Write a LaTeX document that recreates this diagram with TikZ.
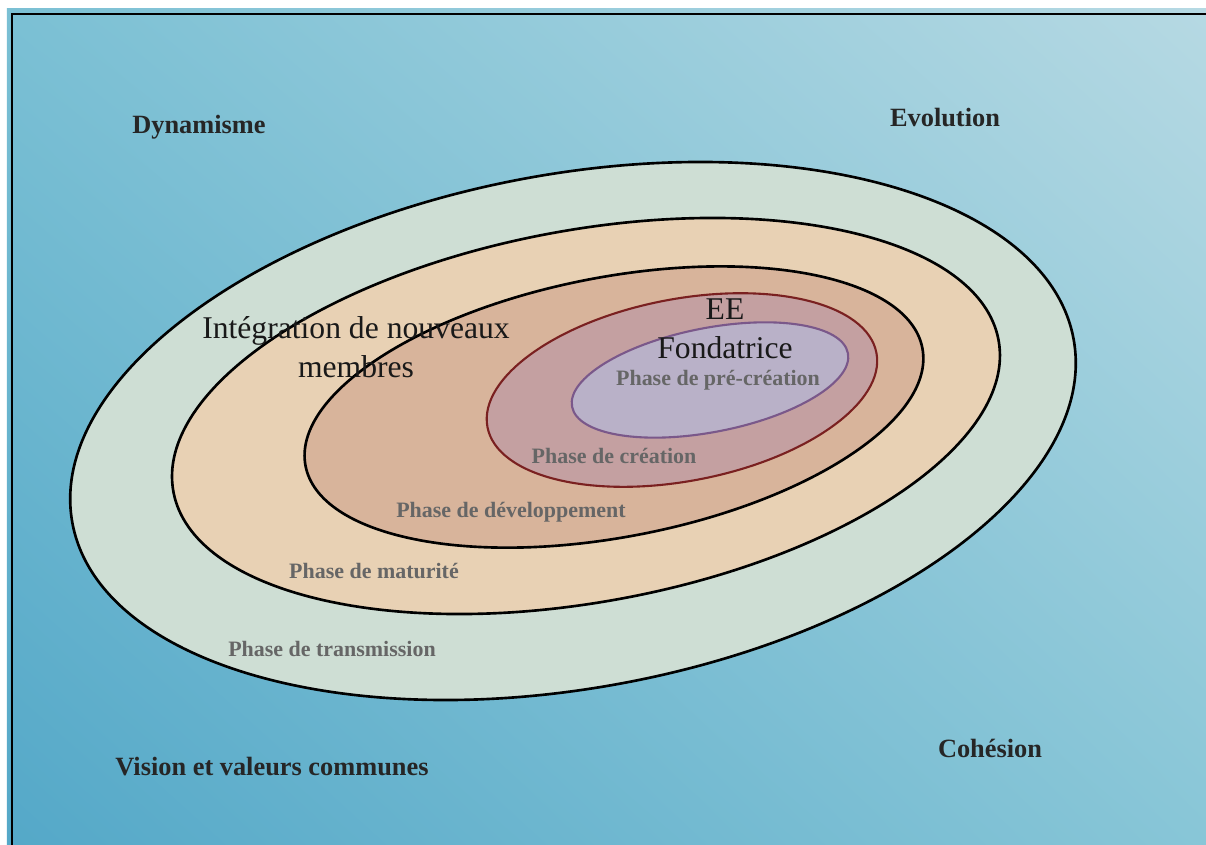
\documentclass[tikz,border=0pt]{standalone}
\usepackage{fontspec}
\setmainfont{Liberation Serif}
\usetikzlibrary{shadings}

\definecolor{bgUL}{RGB}{123,192,212}
\definecolor{bgUR}{RGB}{182,217,227}
\definecolor{bgLL}{RGB}{84,168,200}
\definecolor{bgLR}{RGB}{136,198,215}
\definecolor{ringTrans}{RGB}{206,222,212}
\definecolor{ringMat}{RGB}{232,209,180}
\definecolor{ringDev}{RGB}{216,180,155}
\definecolor{ringCrea}{RGB}{196,160,161}
\definecolor{ringPre}{RGB}{185,177,200}
\definecolor{lineCrea}{RGB}{122,32,32}
\definecolor{linePre}{RGB}{122,88,138}

\begin{document}
\begin{tikzpicture}[
        ring/.style={draw=black, line width=1.5pt},
        cornerlabel/.style={font=\fontsize{15}{18}\selectfont\bfseries, text=black!85},
        phaselabel/.style={font=\fontsize{12.5}{15}\selectfont\bfseries, text=black!60},
        biglabel/.style={font=\fontsize{18}{22}\selectfont, align=center, text=black!90}
    ]
        \useasboundingbox (0, 0) rectangle (24.12, 16.9);

        % ---------------------------------------------------
        % 1. Background and frame
        % ---------------------------------------------------
        \shade[upper left=bgUL, upper right=bgUR, lower left=bgLL, lower right=bgLR]
            (0.14, 0) rectangle (24.12, 16.72);
        \draw[line width=1.6pt] (0.24, 0) -- (0.24, 16.62) -- (24.12, 16.62);

        % ---------------------------------------------------
        % 2. Nested phases (outer to inner)
        % ---------------------------------------------------
        \coordinate (cTrans) at (11.46, 8.28);
        \coordinate (cMat)   at (11.72, 8.58);
        \coordinate (cDev)   at (12.28, 8.76);
        \coordinate (cCrea)  at (13.64, 9.10);
        \coordinate (cPre)   at (14.20, 9.30);

        % transmission
        \draw[ring, fill=ringTrans, rotate around={10.4:(cTrans)}]
            (cTrans) ellipse [x radius=10.18, y radius=5.14];
        % maturite
        \draw[ring, fill=ringMat, rotate around={10.4:(cMat)}]
            (cMat) ellipse [x radius=8.39, y radius=3.72];
        % developpement
        \draw[ring, fill=ringDev, rotate around={10.8:(cDev)}]
            (cDev) ellipse [x radius=6.28, y radius=2.60];
        % creation (red outline)
        \draw[ring, draw=lineCrea, line width=1.2pt, fill=ringCrea, rotate around={10.8:(cCrea)}]
            (cCrea) ellipse [x radius=3.96, y radius=1.82];
        % pre-creation (purple outline)
        \draw[ring, draw=linePre, line width=1.2pt, fill=ringPre, rotate around={11:(cPre)}]
            (cPre) ellipse [x radius=2.81, y radius=1.04];

        % ---------------------------------------------------
        % 3. Labels
        % ---------------------------------------------------

        % Corners
        \node[cornerlabel] (dyn)    at (3.98, 14.36) {Dynamisme};
        \node[cornerlabel] (evol)   at (18.90, 14.54) {Evolution};
        \node[cornerlabel] (vision) at (5.44, 1.56) {Vision et valeurs communes};
        \node[cornerlabel] (cohes)  at (19.80, 1.94) {Cohésion};

        % Big texts
        \node[biglabel] (integ) at (7.12, 9.96) {Intégration de nouveaux\\membres};
        \node[biglabel] (fond)  at (14.50, 10.32) {EE\\Fondatrice};

        % Phases
        \node[phaselabel] (pre)   at (14.36, 9.30) {Phase de pré-création};
        \node[phaselabel] (crea)  at (12.28, 7.78) {Phase de création};
        \node[phaselabel] (dev)   at (10.22, 6.66) {Phase de développement};
        \node[phaselabel] (mat)   at (7.48, 5.48) {Phase de maturité};
        \node[phaselabel] (trans) at (6.64, 3.92) {Phase de transmission};

    \end{tikzpicture}
\end{document}
